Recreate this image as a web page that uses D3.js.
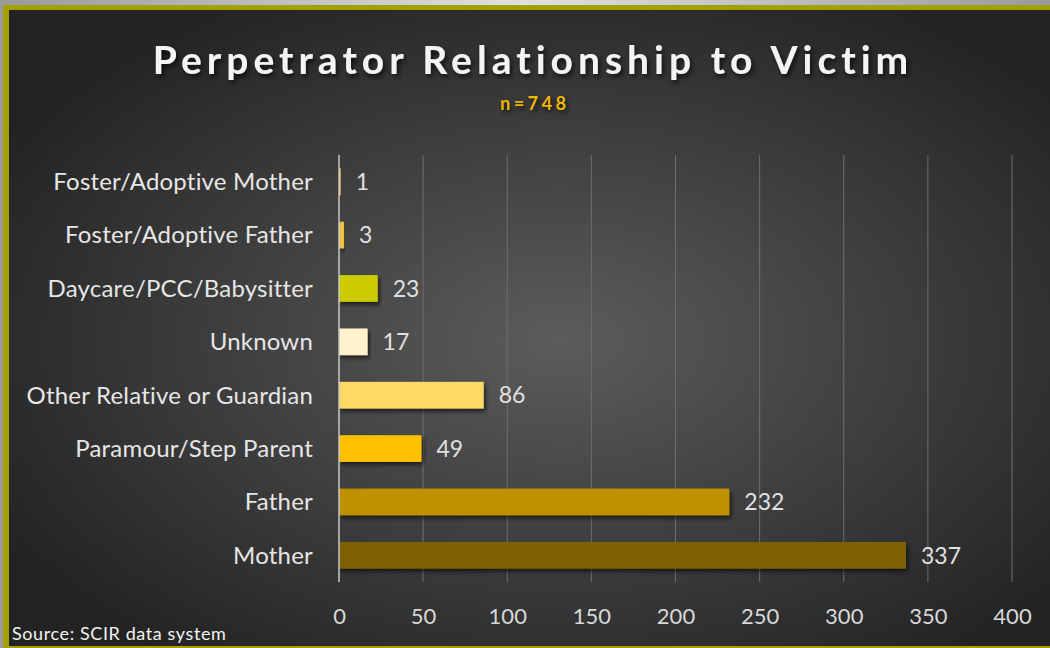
<!DOCTYPE html>
<html><head><meta charset="utf-8">
<script src="https://cdn.jsdelivr.net/npm/d3@7"></script>
<style>html,body{margin:0;padding:0;background:#2a2a2a;}svg{display:block;}</style>
</head><body>
<svg id="c" width="1050" height="648"></svg>
<script>
const categories = ["Foster/Adoptive Mother","Foster/Adoptive Father","Daycare/PCC/Babysitter","Unknown","Other Relative or Guardian","Paramour/Step Parent","Father","Mother"];
const values = [1,3,23,17,86,49,232,337];
const barColors = ["#f2c94c","#f0c040","#cccc00","#fff2cc","#ffd966","#ffc000","#bf9000","#7f6000"];
const tickValues = [0,50,100,150,200,250,300,350,400];
const titleText = "Perpetrator Relationship to Victim";
const subtitleText = "n=748";
const sourceText = "Source: SCIR data system";

const W = 1050, H = 648;
const svg = d3.select("#c");
const defs = svg.append("defs");
const rg = defs.append("radialGradient").attr("id","bg").attr("cx","0.53").attr("cy","0.52").attr("r","0.62");
rg.append("stop").attr("offset","0%").attr("stop-color","#5c5c5c");
rg.append("stop").attr("offset","100%").attr("stop-color","#232323");
const tg = defs.append("linearGradient").attr("id","topg").attr("x1","0").attr("x2","1");
tg.append("stop").attr("offset","0%").attr("stop-color","#9a9a9a");
tg.append("stop").attr("offset","50%").attr("stop-color","#e0e0e0");
tg.append("stop").attr("offset","100%").attr("stop-color","#9a9a9a");
const sh = defs.append("filter").attr("id","sh").attr("x","-20%").attr("y","-30%").attr("width","140%").attr("height","170%");
sh.append("feDropShadow").attr("dx",2).attr("dy",3).attr("stdDeviation",2.5).attr("flood-color","#000").attr("flood-opacity",0.7);
const bsh = defs.append("filter").attr("id","bsh").attr("x","-5%").attr("y","-30%").attr("width","115%").attr("height","180%");
bsh.append("feDropShadow").attr("dx",2).attr("dy",3).attr("stdDeviation",2).attr("flood-color","#000").attr("flood-opacity",0.6);

// frame
svg.append("rect").attr("width",W).attr("height",H).attr("fill","url(#topg)");
svg.append("rect").attr("x",3).attr("y",5).attr("width",W-3).attr("height",H-5).attr("fill","#a3a000");
svg.append("rect").attr("x",9).attr("y",10).attr("width",W-9).attr("height",H-12).attr("fill","url(#bg)");

const margin = {left:339, right:34, top:155, bottom:66};
const x = d3.scaleLinear().domain([0,400]).range([margin.left, 1012]);
const y = d3.scaleBand().domain(categories).range([margin.top, H-margin.bottom]).paddingInner(0.5).paddingOuter(0.25);

// gridlines
svg.append("g").selectAll("line").data(tickValues.slice(1)).join("line")
  .attr("x1",d=>x(d)).attr("x2",d=>x(d)).attr("y1",margin.top).attr("y2",H-margin.bottom)
  .attr("stroke","#6e6e6e").attr("stroke-width",1);

// bars
svg.append("g").selectAll("rect").data(values).join("rect")
  .attr("x",x(0)).attr("y",(d,i)=>y(categories[i]))
  .attr("width",d=>x(d)-x(0)).attr("height",y.bandwidth())
  .attr("fill",(d,i)=>barColors[i]).attr("filter","url(#bsh)");

// axis line
svg.append("line").attr("x1",x(0)).attr("x2",x(0)).attr("y1",margin.top).attr("y2",H-margin.bottom)
  .attr("stroke","#c8c8c8").attr("stroke-width",1.5);

const font = "Lato, 'Open Sans', sans-serif";
// y axis labels
const yAxis = d3.axisLeft(y).tickSize(0).tickPadding(26);
const gy = svg.append("g").attr("transform",`translate(${x(0)},0)`).call(yAxis);
gy.select(".domain").remove();
gy.selectAll("text").attr("fill","#e6e6e6").style("font-family",font).style("font-size","24px").style("letter-spacing","0.2px").attr("dy","0.35em");

// x axis labels
const xAxis = d3.axisBottom(x).tickValues(tickValues).tickSize(0).tickPadding(20);
const gx = svg.append("g").attr("transform",`translate(0,${H-margin.bottom+6})`).call(xAxis);
gx.select(".domain").remove();
gx.selectAll("text").attr("fill","#d8d8d8").style("font-family",font).style("font-size","22px");

// value labels
svg.append("g").selectAll("text").data(values).join("text")
  .attr("x",d=>x(d)+15).attr("y",(d,i)=>y(categories[i])+y.bandwidth()/2)
  .attr("dy","0.36em").attr("fill","#e0e0e0")
  .style("font-family",font).style("font-size","23px").text(d=>d);

// title
svg.append("text").attr("x",533).attr("y",74).attr("text-anchor","middle")
  .attr("fill","#f4f4f4").attr("filter","url(#sh)")
  .style("font-family",font).style("font-weight","bold").style("font-size","39px").style("letter-spacing","5px")
  .text(titleText);
svg.append("text").attr("x",535).attr("y",110).attr("text-anchor","middle")
  .attr("fill","#f0b400").attr("filter","url(#sh)")
  .style("font-family",font).style("font-weight","bold").style("font-size","18px").style("letter-spacing","3.5px")
  .text(subtitleText);

// source
svg.append("text").attr("x",12).attr("y",640).attr("fill","#f2f2f2")
  .style("font-family",font).style("font-size","18px").style("letter-spacing","0.6px").text(sourceText);
</script>
</body></html>
